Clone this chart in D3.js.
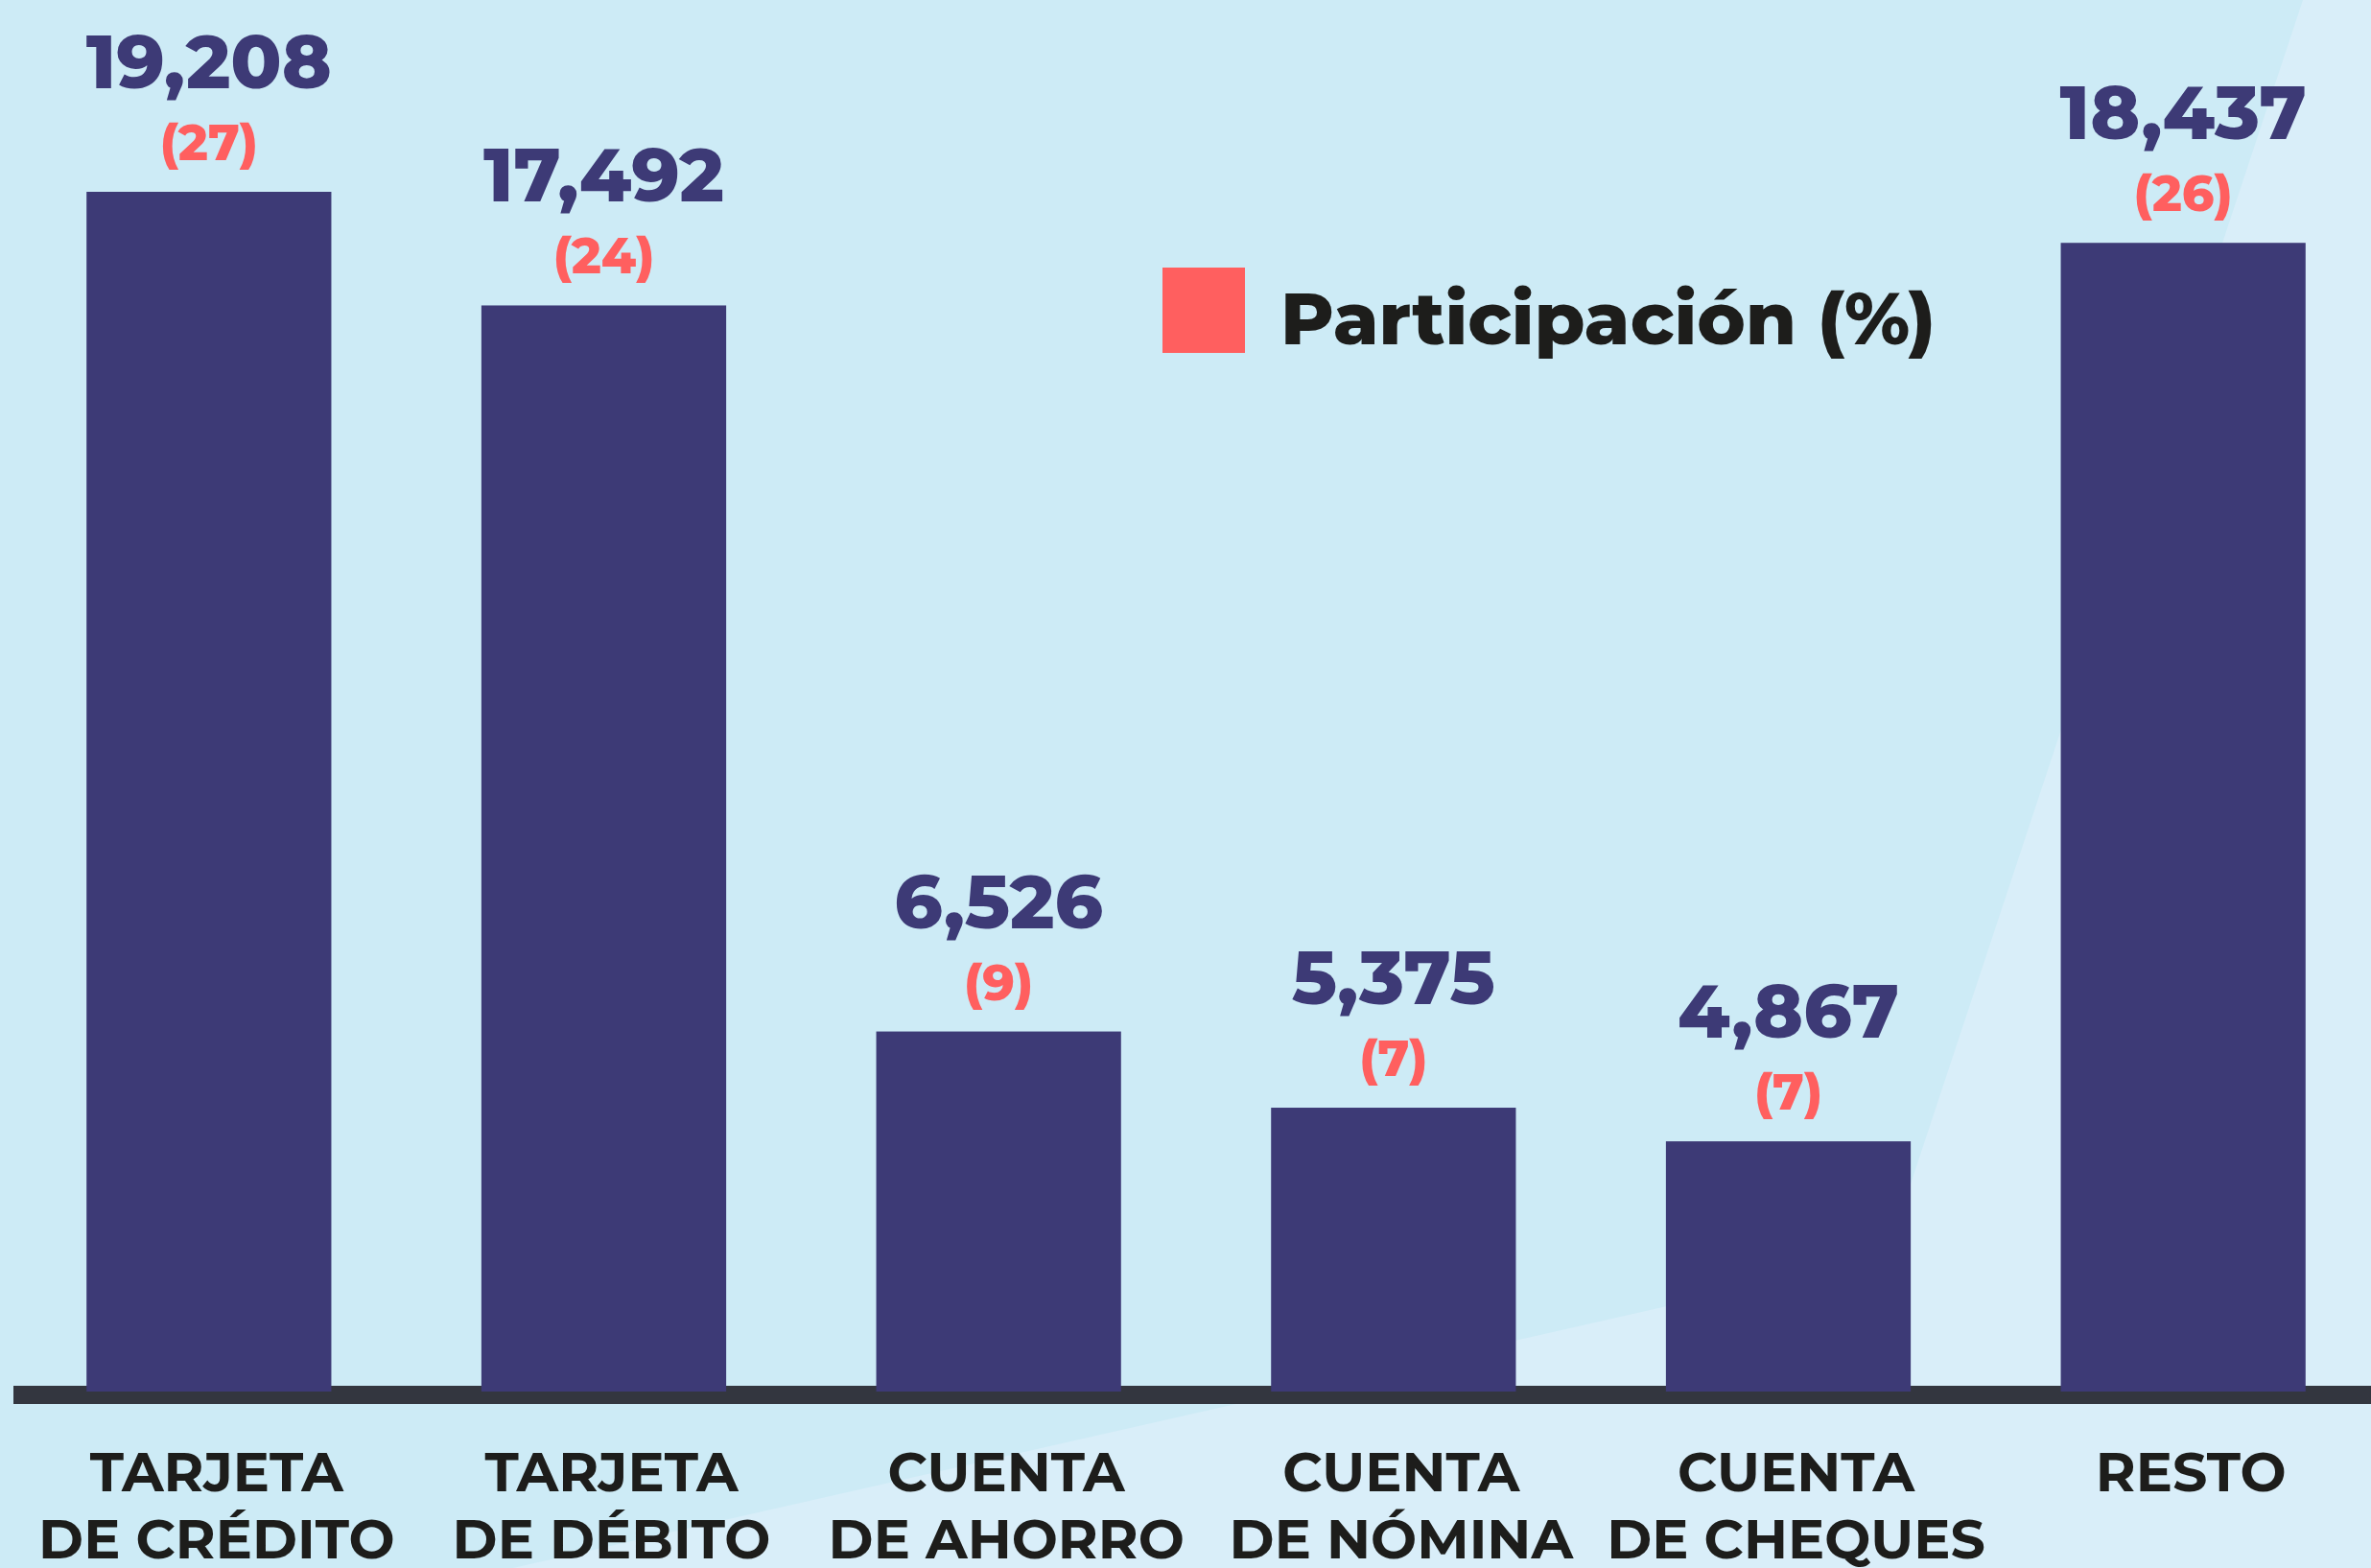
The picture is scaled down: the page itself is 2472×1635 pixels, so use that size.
<!DOCTYPE html>
<html>
<head>
<meta charset="utf-8">
<script src="https://cdn.jsdelivr.net/npm/d3@7"></script>
<style>
    html, body { margin: 0; padding: 0; background: #cdebf6; }
    svg { display: block; }
    text { font-family: Montserrat, Inter, "Noto Sans", sans-serif; }
</style>
</head>
<body>
<svg id="chart"></svg>
<script>
// Valores
var categorias = ["TARJETA|DE CRÉDITO", "TARJETA|DE DÉBITO", "CUENTA|DE AHORRO",
                  "CUENTA|DE NÓMINA", "CUENTA|DE CHEQUES", "RESTO"];
var valores = [19208, 17492, 6526, 5375, 4867, 18437];
var participacion = [27, 24, 9, 7, 7, 26];
var leyenda = "Participación (%)";

var width = 2472,
    height = 1635;
var baseY = 1451;

var svg = d3.select("#chart")
    .attr("width", width)
    .attr("height", height);

// fondo
svg.append("rect")
    .attr("width", width)
    .attr("height", height)
    .attr("fill", "#cdebf6");
svg.append("path")
    .attr("d", "M2401,0 L2472,0 L2472,1635 L535,1635 L1967,1310 Z")
    .attr("fill", "#d9eef9");

var data = categorias.map(function (c, i) {
    return { cat: c, v: valores[i], p: participacion[i] };
});

var x = d3.scaleBand()
    .domain(categorias)
    .range([12, 2482])
    .paddingInner(0.38)
    .paddingOuter(0.19);

var y = d3.scaleLinear()
    .domain([1088, 19208])
    .range([baseY, 200]);

// linea base
svg.append("rect")
    .attr("x", 14)
    .attr("y", 1445)
    .attr("width", width - 14)
    .attr("height", 19)
    .attr("fill", "#33363f");

svg.selectAll(".bar")
    .data(data)
    .enter().append("rect")
    .attr("class", "bar")
    .attr("x", function (d) { return x(d.cat); })
    .attr("y", function (d) { return y(d.v); })
    .attr("width", x.bandwidth())
    .attr("height", function (d) { return baseY - y(d.v); })
    .attr("fill", "#3d3a76");

var fmt = d3.format(",");

svg.selectAll(".valor")
    .data(data)
    .enter().append("text")
    .attr("class", "valor")
    .attr("x", function (d) { return x(d.cat) + x.bandwidth() / 2; })
    .attr("y", function (d) { return y(d.v) - 108; })
    .attr("text-anchor", "middle")
    .attr("font-size", 78)
    .attr("font-weight", 800)
    .attr("fill", "#3d3a76")
    .text(function (d) { return fmt(d.v); });

svg.selectAll(".pct")
    .data(data)
    .enter().append("text")
    .attr("class", "pct")
    .attr("x", function (d) { return x(d.cat) + x.bandwidth() / 2; })
    .attr("y", function (d) { return y(d.v) - 33; })
    .attr("text-anchor", "middle")
    .attr("font-size", 52)
    .attr("font-weight", 800)
    .attr("fill", "#ff5f5f")
    .text(function (d) { return "(" + d.p + ")"; });

// etiquetas de categoria
var etiquetas = svg.selectAll(".cat")
    .data(data)
    .enter().append("text")
    .attr("class", "cat")
    .attr("text-anchor", "middle")
    .attr("font-size", 57)
    .attr("font-weight", 700)
    .attr("fill", "#1d1d1b");
etiquetas.each(function (d) {
    var lineas = d.cat.split("|");
    var cx = x(d.cat) + x.bandwidth() / 2 + 8;
    d3.select(this).selectAll("tspan")
        .data(lineas)
        .enter().append("tspan")
        .attr("x", cx)
        .attr("y", function (l, i) { return 1555 + i * 70; })
        .text(function (l) { return l; });
});

// leyenda
svg.append("rect")
    .attr("x", 1212)
    .attr("y", 279)
    .attr("width", 86)
    .attr("height", 89)
    .attr("fill", "#ff5f5f");
svg.append("text")
    .attr("x", 1335)
    .attr("y", 359)
    .attr("font-size", 76)
    .attr("font-weight", 800)
    .attr("fill", "#1d1d1b")
    .text(leyenda);
</script>
</body>
</html>
